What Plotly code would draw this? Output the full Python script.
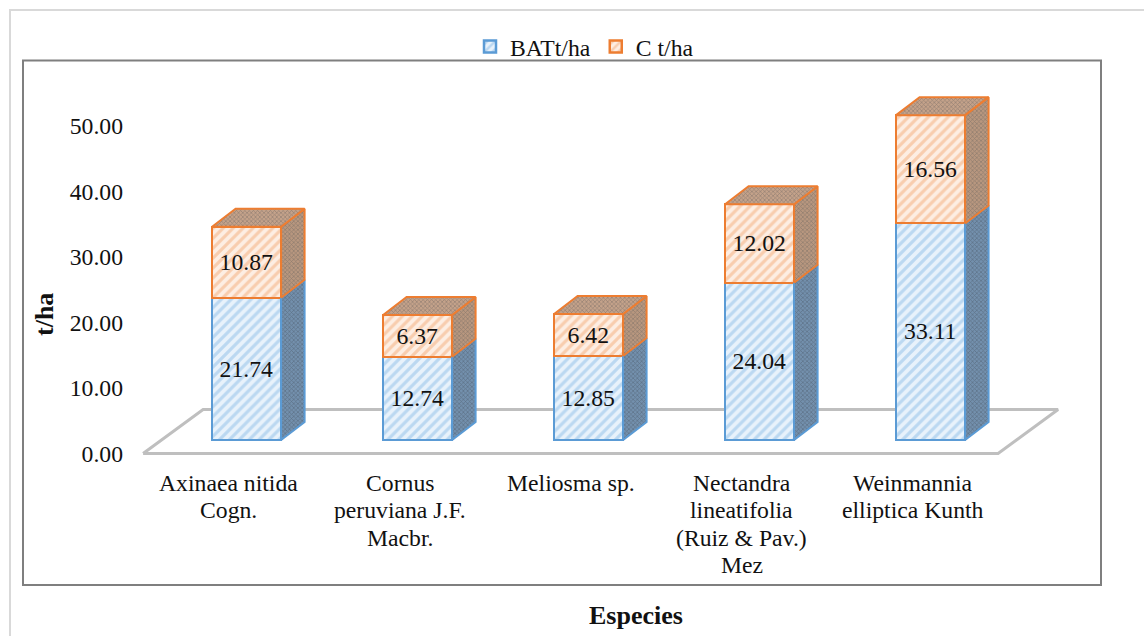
import plotly.graph_objects as go

species = ["Axinaea nitida<br>Cogn.", "Cornus<br>peruviana J.F.<br>Macbr.", "Meliosma sp.",
           "Nectandra<br>lineatifolia<br>(Ruiz &amp; Pav.)<br>Mez", "Weinmannia<br>elliptica Kunth"]
bat = [21.74, 12.74, 12.85, 24.04, 33.11]
carbon = [10.87, 6.37, 6.42, 12.02, 16.56]
y_ticks = [0, 10, 20, 30, 40, 50]

W, H = 1144, 636
L, R, T, B = 124, 1064, 60, 462
FONT = "Liberation Serif"
FS = 23.7
BLUE, ORANGE = "#5b9bd5", "#ed7d31"
INK = "#111111"

# pixel geometry of the pseudo-3D drawing
x0_px, step_px = 228.6, 171.0
bar_shift = 18 / step_px
bar_w = 69 / step_px
depth_x = 23.5 / step_px
bar_scale, bar_base_px = 6.54, 440
tick_scale, tick_base_px = 6.55, 453.5
depth_y = 18 / bar_scale
positions = list(range(len(species)))
bar_x = [p + bar_shift for p in positions]


def px(x):
    return (x - L) / (R - L)


def py(y):
    return (B - y) / (B - T)


fig = go.Figure()

# floor (base subplot, under the bars)
floor_d = 60 / step_px
floor_h = 44 / tick_scale
fig.add_trace(go.Scatter(
    x=[-0.5, 4.5, 4.5 + floor_d, -0.5 + floor_d, -0.5],
    y=[0, 0, floor_h, floor_h, 0],
    mode="lines", line=dict(color="#bfbfbf", width=3),
    showlegend=False, hoverinfo="skip",
))

fig.add_trace(go.Bar(
    name="BATt/ha", x=bar_x, y=bat, yaxis="y2", width=bar_w,
    marker=dict(color="#e6f0fa", line=dict(color=BLUE, width=2.5),
                pattern=dict(shape="/", fgcolor="#8dbde8", bgcolor="#e8f2fb", size=7, solidity=0.45)),
    text=bat, texttemplate="%{y:.2f}", textposition="inside", insidetextanchor="middle",
    textangle=0, constraintext="none",
    textfont=dict(family=FONT, size=FS, color=INK),
))
fig.add_trace(go.Bar(
    name="C t/ha", x=bar_x, y=carbon, yaxis="y2", width=bar_w,
    marker=dict(color="#fdeadd", line=dict(color=ORANGE, width=2.5),
                pattern=dict(shape="/", fgcolor="#f3ab7a", bgcolor="#fdeee3", size=7, solidity=0.45)),
    text=carbon, texttemplate="%{y:.2f}", textposition="inside", insidetextanchor="middle",
    textangle=0, constraintext="none",
    textfont=dict(family=FONT, size=FS, color=INK),
))


def face(xs, ys, edge, fg, bg):
    fig.add_trace(go.Scatter(
        x=xs, y=ys, yaxis="y2", mode="lines", fill="toself",
        fillcolor=bg, fillpattern=dict(shape="x", fgcolor=fg, bgcolor=bg, size=3, solidity=0.4),
        line=dict(color=edge, width=2), showlegend=False, hoverinfo="skip",
    ))


for xc, b, c in zip(bar_x, bat, carbon):
    r = xc + bar_w / 2
    l = xc - bar_w / 2
    top = b + c
    face([r, r + depth_x, r + depth_x, r, r], [0, depth_y, b + depth_y, b, 0], BLUE, "#46525e", "#7390ad")
    face([r, r + depth_x, r + depth_x, r, r], [b, b + depth_y, top + depth_y, top, b], ORANGE, "#63605c", "#b8977f")
    face([l, l + depth_x, r + depth_x, r, l], [top, top + depth_y, top + depth_y, top, top], ORANGE, "#63605c", "#c4a28a")

shapes = [
    dict(type="path", xref="paper", yref="paper", layer="below",
         path=f"M{px(10)},{py(636)} L{px(10)},{py(10)} L{px(1144)},{py(10)}",
         line=dict(color="#d9d9d9", width=2)),
    dict(type="rect", xref="paper", yref="paper", layer="below",
         x0=px(23), x1=px(1101), y0=py(585), y1=py(60.5),
         line=dict(color="#7f7f7f", width=2)),
]

annotations = [
    dict(text="<b>Especies</b>", xref="paper", yref="paper", x=px(636), y=py(615),
         xanchor="center", yanchor="middle",
         showarrow=False, font=dict(family=FONT, size=26, color=INK)),
    dict(text="<b>t/ha</b>", xref="paper", yref="paper", x=px(44), y=py(315), textangle=-90,
         xanchor="center", yanchor="middle",
         showarrow=False, font=dict(family=FONT, size=26, color=INK)),
]
# category labels, one annotation per line for the tight line spacing of the original
for pos, label in zip(positions, species):
    for i, line in enumerate(label.split("<br>")):
        annotations.append(dict(text=line, xref="x", yref="paper", x=pos, y=py(482.5 + 27.5 * i),
                                xanchor="center", yanchor="middle",
                                showarrow=False, font=dict(family=FONT, size=FS, color=INK)))

fig.update_layout(
    width=W, height=H, autosize=False,
    margin=dict(l=L, r=W - R, t=T, b=H - B, pad=0),
    paper_bgcolor="white", plot_bgcolor="rgba(0,0,0,0)",
    barmode="stack", bargap=0, hovermode=False,
    font=dict(family=FONT, size=FS, color=INK),
    xaxis=dict(range=[(L - x0_px) / step_px, (R - x0_px) / step_px],
               tickmode="array", tickvals=positions, showticklabels=False,
               showgrid=False, zeroline=False, showline=False, ticks=""),
    yaxis=dict(range=[(tick_base_px - B) / tick_scale, (tick_base_px - T) / tick_scale],
               tickmode="array", tickvals=y_ticks, ticktext=[f"{v:.2f}" for v in y_ticks],
               showgrid=False, zeroline=False, showline=False, ticks="",
               tickfont=dict(family=FONT, size=FS, color=INK)),
    yaxis2=dict(range=[(bar_base_px - B) / bar_scale, (bar_base_px - T) / bar_scale],
                overlaying="y", visible=False, showgrid=False, zeroline=False),
    legend=dict(orientation="h", xref="paper", yref="paper", x=px(470), y=py(46.5),
                xanchor="left", yanchor="middle", bgcolor="rgba(0,0,0,0)",
                font=dict(family=FONT, size=FS, color=INK), traceorder="normal"),
    shapes=shapes, annotations=annotations,
)

fig.write_html("out.html", config={"displayModeBar": False},
               post_script="document.body.style.margin='0';document.documentElement.style.overflow='hidden';")
